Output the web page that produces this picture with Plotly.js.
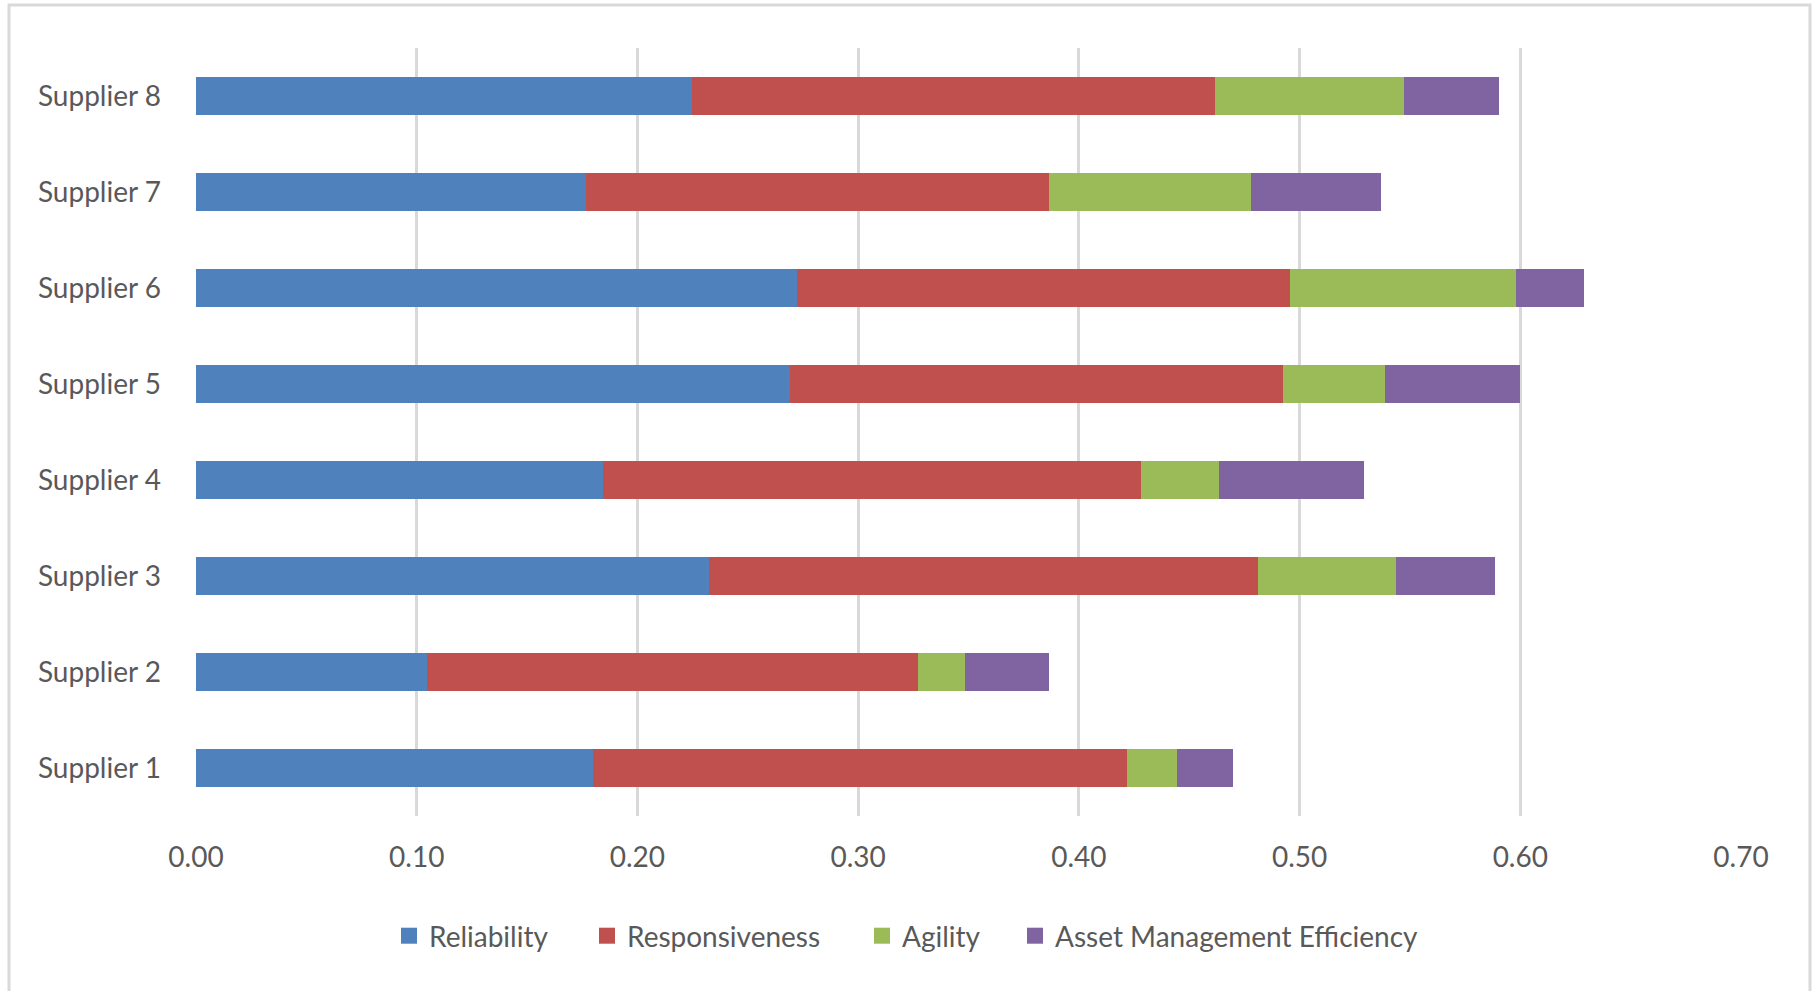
<!DOCTYPE html>
<html>
<head>
<meta charset="utf-8">
<script src="https://cdn.plot.ly/plotly-3.0.1.min.js"></script>
<style>
  html, body { margin: 0; padding: 0; background: #ffffff; }
  #chart { width: 1818px; height: 991px; }
</style>
</head>
<body>
<div id="chart"></div>
<script>
const categories = ["Supplier 1", "Supplier 2", "Supplier 3", "Supplier 4",
                    "Supplier 5", "Supplier 6", "Supplier 7", "Supplier 8"];
const reliability      = [0.180, 0.1045, 0.2325, 0.1846, 0.2693, 0.2725, 0.1767, 0.2246];
const responsiveness   = [0.242, 0.2227, 0.2488, 0.2436, 0.2231, 0.2231, 0.2099, 0.2373];
const agility          = [0.0225, 0.021, 0.0626, 0.0352, 0.0463, 0.1026, 0.0916, 0.0852];
const assetManagement  = [0.0254, 0.0384, 0.0447, 0.0658, 0.061, 0.0305, 0.0589, 0.0431];
const seriesNames = ["Reliability", "Responsiveness", "Agility", "Asset Management Efficiency"];
const xTickVals = [0, 0.1, 0.2, 0.3, 0.4, 0.5, 0.6, 0.7];

const colors = ["#4F81BD", "#C0504D", "#9BBB59", "#8064A2"];
const seriesValues = [reliability, responsiveness, agility, assetManagement];
const legendIds = ["legend", "legend2", "legend3", "legend4"];

const barTraces = seriesValues.map((vals, i) => ({
  type: "bar",
  orientation: "h",
  name: seriesNames[i],
  y: categories,
  x: vals,
  showlegend: false,
  marker: { color: colors[i], line: { width: 0 } },
  hoverinfo: "x+name"
}));

// legend-only entries (square swatches like the reference)
const legendTraces = seriesNames.map((nm, i) => ({
  type: "scatter",
  mode: "markers",
  name: nm,
  x: [null],
  y: [null],
  legend: legendIds[i],
  showlegend: true,
  marker: { symbol: "square", size: 18, color: colors[i], line: { width: 0 } },
  hoverinfo: "skip"
}));

const W = 1818, H = 991;
const mL = 196, mR = 77, mT = 48, mB = 175;
const pw = W - mL - mR, ph = H - mT - mB;
const px = v => (v - mL) / pw;
const py = v => (H - mB - v) / ph;

// left edges of each legend item (pixels, container)
const legendLeft = [389, 587, 862, 1015];

const layout = {
  width: W, height: H,
  margin: { l: mL, r: mR, t: mT, b: mB, pad: 0 },
  barmode: "stack",
  bargap: 0.594,
  paper_bgcolor: "#ffffff",
  plot_bgcolor: "#ffffff",
  font: { family: "Lato, 'Open Sans', sans-serif", size: 28, color: "#595959" },
  xaxis: {
    range: [0, 0.7],
    tickvals: xTickVals,
    tickformat: ".2f",
    showgrid: true,
    gridcolor: "#d9d9d9",
    gridwidth: 3,
    zeroline: false,
    showline: false,
    ticks: "",
    ticklabelstandoff: 22,
    tickfont: { size: 28, color: "#595959" },
    fixedrange: true
  },
  yaxis: {
    type: "category",
    categoryorder: "array",
    categoryarray: categories,
    showgrid: false,
    zeroline: false,
    showline: false,
    ticks: "",
    ticklabelstandoff: 34,
    tickfont: { size: 28, color: "#595959" },
    fixedrange: true
  },
  shapes: [{
    type: "rect", xref: "paper", yref: "paper",
    x0: px(9), x1: px(1810), y0: py(1000), y1: py(5),
    line: { color: "#d9d9d9", width: 3 },
    fillcolor: "rgba(0,0,0,0)",
    layer: "below"
  }]
};

legendIds.forEach((id, i) => {
  layout[id] = {
    orientation: "h",
    xref: "container", yref: "container",
    x: legendLeft[i] / W, xanchor: "left",
    y: 1 - 936 / H, yanchor: "middle",
    font: { size: 28, color: "#595959" },
    itemclick: false, itemdoubleclick: false,
    bgcolor: "rgba(0,0,0,0)",
    borderwidth: 0
  };
});

Plotly.newPlot("chart", barTraces.concat(legendTraces), layout, { displayModeBar: false, staticPlot: true });
</script>
</body>
</html>
